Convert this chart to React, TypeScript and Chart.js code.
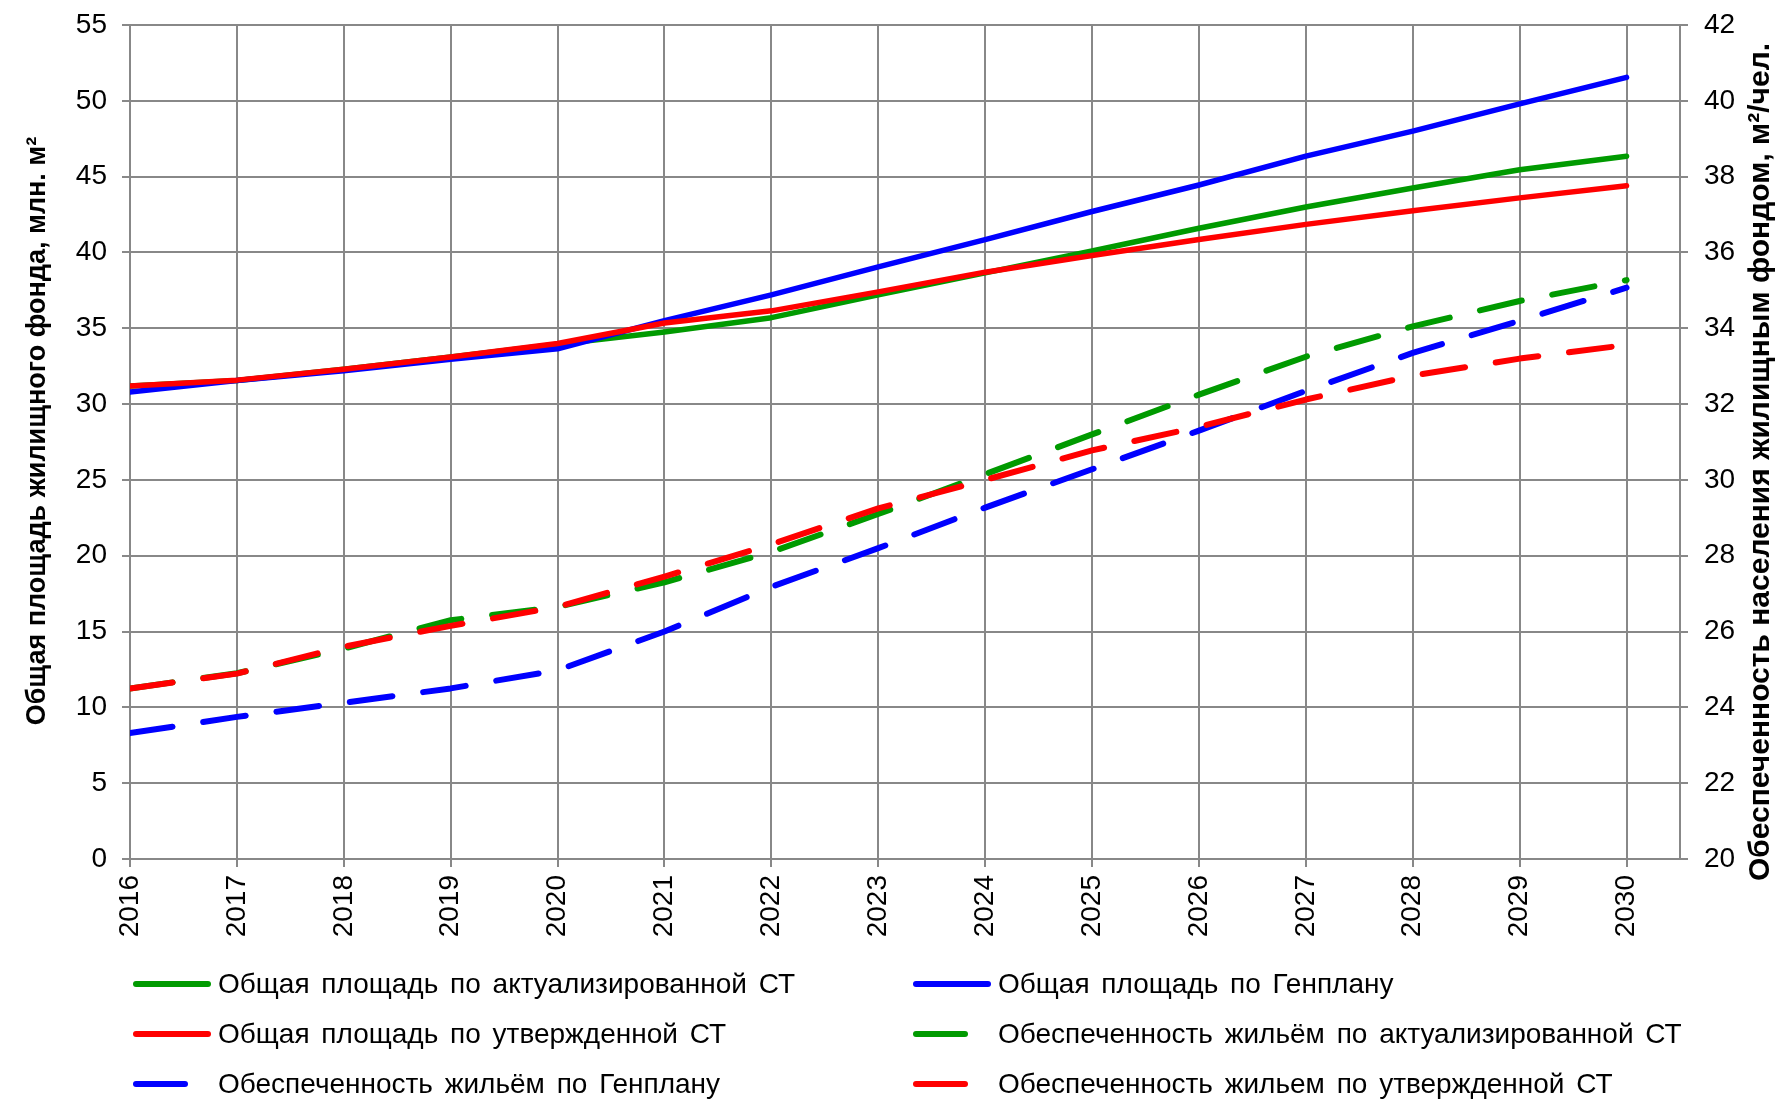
import React, { useEffect, useRef } from 'react';
import { Chart, registerables } from 'chart.js';

Chart.register(...registerables);

// ---------- data ----------
const years = [2016, 2017, 2018, 2019, 2020, 2021, 2022, 2023, 2024, 2025, 2026, 2027, 2028, 2029, 2030];

// Общая площадь, млн. м² (left axis)
const areaActualized = [31.2, 31.55, 32.3, 33.1, 33.95, 34.75, 35.7, 37.2, 38.65, 40.1, 41.6, 43.0, 44.25, 45.45, 46.35];
const areaGenplan = [30.8, 31.55, 32.2, 32.95, 33.65, 35.5, 37.2, 39.05, 40.85, 42.7, 44.45, 46.35, 48.0, 49.8, 51.55];
const areaApproved = [31.2, 31.58, 32.3, 33.1, 34.0, 35.35, 36.15, 37.4, 38.7, 39.8, 40.85, 41.85, 42.75, 43.6, 44.4];

// Обеспеченность, м²/чел. (right axis)
const supplyActualized = [24.5, 24.9, 25.55, 26.3, 26.65, 27.3, 28.1, 29.1, 30.15, 31.2, 32.25, 33.25, 34.05, 34.72, 35.27];
const supplyGenplan = [23.32, 23.75, 24.12, 24.5, 24.98, 26.0, 27.18, 28.2, 29.27, 30.28, 31.3, 32.35, 33.35, 34.2, 35.07];
const supplyApproved = [24.5, 24.89, 25.6, 26.15, 26.65, 27.45, 28.3, 29.25, 30.0, 30.78, 31.4, 32.12, 32.75, 33.2, 33.56];

const seriesLabels = [
  'Общая площадь по актуализированной СТ',
  'Общая площадь по Генплану',
  'Общая площадь по утвержденной СТ',
  'Обеспеченность жильём по актуализированной СТ',
  'Обеспеченность жильём по Генплану',
  'Обеспеченность жильем по утвержденной СТ',
];

const leftAxisTitle = 'Общая площадь жилищного фонда, млн. м²';
const rightAxisTitle = 'Обеспеченность населения жилищным фондом, м²/чел.';

const leftRange = [0, 55, 5];
const rightRange = [20, 42, 2];

// ---------- styles ----------
const GREEN = '#009a00';
const BLUE = '#0000ff';
const RED = '#ff0000';
const GRID = '#888888';
const FONT = '"Liberation Sans", Arial, sans-serif';

const seriesStyle = [
  { color: GREEN, dashed: false, axis: 'y' },
  { color: BLUE, dashed: false, axis: 'y' },
  { color: RED, dashed: false, axis: 'y' },
  { color: GREEN, dashed: true, axis: 'y1' },
  { color: BLUE, dashed: true, axis: 'y1' },
  { color: RED, dashed: true, axis: 'y1' },
];
const seriesValues = [areaActualized, areaGenplan, areaApproved, supplyActualized, supplyGenplan, supplyApproved];

const titlesPlugin = {
  id: 'axisTitles',
  afterDraw(chart: any) {
    const ctx = chart.ctx as CanvasRenderingContext2D;
    ctx.save();
    ctx.fillStyle = '#000';
    ctx.textAlign = 'center';
    ctx.textBaseline = 'alphabetic';
    ctx.save();
    ctx.font = `bold 27px ${FONT}`;
    ctx.translate(45, 431);
    ctx.rotate(-Math.PI / 2);
    ctx.fillText(leftAxisTitle, 0, 0);
    ctx.restore();
    ctx.save();
    ctx.font = `bold 30px ${FONT}`;
    ctx.translate(1769, 462);
    ctx.rotate(-Math.PI / 2);
    ctx.fillText(rightAxisTitle, 0, 0);
    ctx.restore();
    ctx.restore();
  },
};

export default function App() {
  const canvasRef = useRef<HTMLCanvasElement | null>(null);

  useEffect(() => {
    if (!canvasRef.current) return;
    const datasets = seriesValues.map((vals, i) => ({
      label: seriesLabels[i],
      data: years.map((yr, j) => ({ x: yr, y: vals[j] })),
      borderColor: seriesStyle[i].color,
      backgroundColor: seriesStyle[i].color,
      borderWidth: seriesStyle[i].dashed ? 6 : 5.5,
      borderDash: seriesStyle[i].dashed ? [43, 31] : [],
      borderCapStyle: 'round' as const,
      borderJoinStyle: 'round' as const,
      pointRadius: 0,
      tension: 0,
      fill: false,
      yAxisID: seriesStyle[i].axis,
      order: seriesValues.length - i,
    }));

    const fitVertical = (w: number) => (s: any) => {
      s.width = w;
      s.paddingTop = 0;
      s.paddingBottom = 0;
    };

    const chart = new Chart(canvasRef.current, {
      type: 'line',
      data: { datasets },
      plugins: [titlesPlugin],
      options: {
        animation: false,
        responsive: false,
        maintainAspectRatio: false,
        layout: { padding: { top: 25, left: 0, right: 0, bottom: 0 } },
        plugins: { legend: { display: false }, tooltip: { enabled: false } },
        scales: {
          x: {
            type: 'linear',
            min: years[0],
            max: years[years.length - 1] + 0.5,
            afterFit: (s: any) => { s.height = 240; s.paddingLeft = 0; s.paddingRight = 0; },
            ticks: {
              stepSize: 1,
              includeBounds: false,
              autoSkip: false,
              minRotation: 90,
              maxRotation: 90,
              padding: 8,
              color: '#000',
              font: { family: FONT, size: 28 },
              callback: (v: any) => String(v),
            },
            grid: { color: GRID, lineWidth: 2, tickLength: 8 },
            border: { color: GRID, width: 2 },
          },
          y: {
            type: 'linear',
            position: 'left',
            min: leftRange[0],
            max: leftRange[1],
            afterFit: fitVertical(130),
            ticks: {
              stepSize: leftRange[2],
              padding: 15,
              color: '#000',
              font: { family: FONT, size: 28 },
            },
            grid: { color: GRID, lineWidth: 2, tickLength: 8 },
            border: { color: GRID, width: 2 },
          },
          y1: {
            type: 'linear',
            position: 'right',
            min: rightRange[0],
            max: rightRange[1],
            afterFit: fitVertical(102),
            ticks: {
              stepSize: rightRange[2],
              padding: 16,
              color: '#000',
              font: { family: FONT, size: 28 },
            },
            grid: { color: GRID, lineWidth: 2, tickLength: 8, drawOnChartArea: false },
            border: { color: GRID, width: 2 },
          },
        },
      },
    } as any);
    return () => chart.destroy();
  }, []);

  const legendCols = [
    { sampleX: 133, textX: 218 },
    { sampleX: 913, textX: 998 },
  ];
  const rowCenters = [984, 1034, 1084];

  return (
    <div style={{ position: 'fixed', left: 0, top: 0, width: 1782, height: 1099, background: '#fff', overflow: 'hidden' }}>
      <canvas ref={canvasRef} width={1782} height={1099} style={{ position: 'absolute', left: 0, top: 0, width: 1782, height: 1099 }} />
      {seriesLabels.map((label, i) => {
        const col = legendCols[i % 2];
        const row = Math.floor(i / 2);
        const st = seriesStyle[i];
        return (
          <div key={i} style={{ position: 'absolute', left: 0, top: rowCenters[row] - 20, height: 40, width: 891 }}>
            <div
              style={{
                position: 'absolute',
                left: col.sampleX,
                top: 17,
                width: st.dashed ? 55 : 78,
                height: 6,
                borderRadius: 3,
                background: st.color,
              }}
            />
            <div
              style={{
                position: 'absolute',
                left: col.textX,
                top: 0,
                height: 40,
                lineHeight: '40px',
                fontFamily: FONT,
                fontSize: 28,
                wordSpacing: 4,
                color: '#000',
                whiteSpace: 'nowrap',
              }}
            >
              {label}
            </div>
          </div>
        );
      })}
    </div>
  );
}
